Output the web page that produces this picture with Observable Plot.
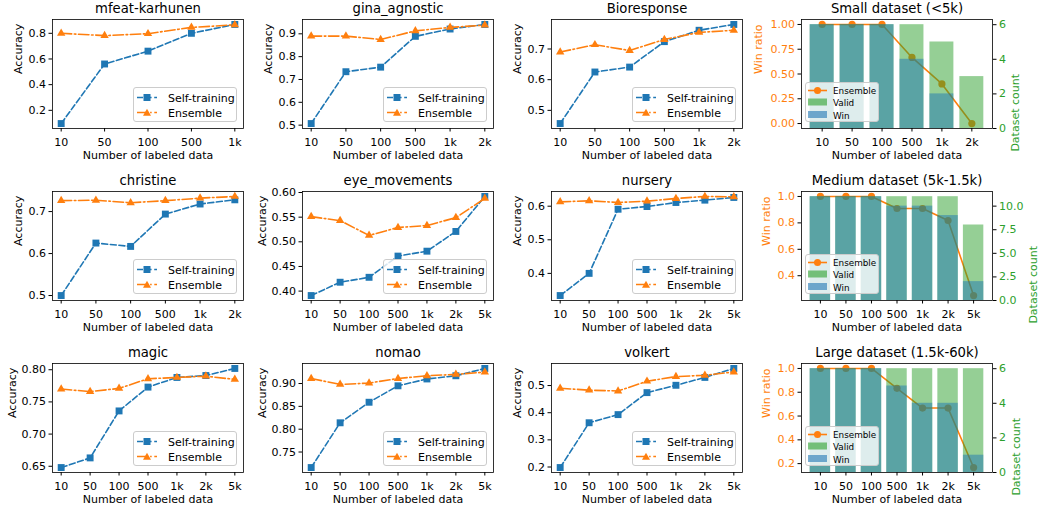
<!DOCTYPE html>
<html><head><meta charset="utf-8">
<script src="https://cdn.jsdelivr.net/npm/d3@7"></script>
<script src="https://cdn.jsdelivr.net/npm/@observablehq/plot@0.6"></script>
<style>
body{margin:0;background:#fff;}
#root{position:relative;width:1039px;height:512px;overflow:hidden;background:#fff;font-family:"DejaVu Sans",sans-serif;color:#000;}
.leg{position:absolute;background:rgba(255,255,255,0.8);border:1px solid #cccccc;border-radius:3px;box-sizing:border-box;}
.leg span{position:absolute;line-height:1;white-space:nowrap;transform:translateY(-50%);}
.leg svg{position:absolute;left:0;top:0;overflow:visible;}
</style></head><body><div id="root"></div><script>
// ---------- data ----------
const labels5 = ["10","50","100","500","1k"];
const labels6 = ["10","50","100","500","1k","2k"];
const labels7 = ["10","50","100","500","1k","2k","5k"];

const mfeatSelf = [0.097, 0.561, 0.661, 0.800, 0.869];
const mfeatEns  = [0.800, 0.782, 0.797, 0.846, 0.866];
const ginaSelf  = [0.507, 0.734, 0.754, 0.889, 0.921, 0.941];
const ginaEns   = [0.890, 0.890, 0.875, 0.913, 0.928, 0.938];
const bioSelf   = [0.457, 0.625, 0.641, 0.724, 0.761, 0.780];
const bioEns    = [0.690, 0.714, 0.695, 0.731, 0.754, 0.761];
const chrSelf   = [0.500, 0.625, 0.617, 0.694, 0.718, 0.728];
const chrEns    = [0.726, 0.727, 0.721, 0.726, 0.732, 0.736];
const eyeSelf   = [0.391, 0.418, 0.428, 0.471, 0.481, 0.521, 0.592];
const eyeEns    = [0.551, 0.543, 0.513, 0.529, 0.533, 0.549, 0.588];
const nurSelf   = [0.334, 0.400, 0.591, 0.599, 0.611, 0.618, 0.626];
const nurEns    = [0.613, 0.616, 0.611, 0.615, 0.623, 0.629, 0.628];
const magSelf   = [0.648, 0.663, 0.736, 0.773, 0.788, 0.791, 0.802];
const magEns    = [0.770, 0.766, 0.771, 0.786, 0.788, 0.790, 0.785];
const nomSelf   = [0.716, 0.814, 0.859, 0.895, 0.910, 0.917, 0.933];
const nomEns    = [0.911, 0.898, 0.901, 0.911, 0.917, 0.920, 0.925];
const volSelf   = [0.198, 0.363, 0.393, 0.474, 0.501, 0.530, 0.563];
const volEns    = [0.490, 0.483, 0.480, 0.516, 0.533, 0.538, 0.550];

const smallValid = [6, 6, 6, 6, 5, 3];
const smallWin   = [6, 6, 6, 4, 2, 0];
const smallRatio = [1.0, 1.0, 1.0, 0.667, 0.4, 0.0];
const medValid   = [11, 11, 11, 11, 11, 11, 8];
const medWin     = [11, 11, 11, 10, 10, 9, 2];
const medRatio   = [1.0, 1.0, 1.0, 0.909, 0.909, 0.818, 0.25];
const largeValid = [6, 6, 6, 6, 6, 6, 6];
const largeWin   = [6, 6, 6, 5, 4, 4, 1];
const largeRatio = [1.0, 1.0, 1.0, 0.833, 0.667, 0.667, 0.167];

const ticksMfeat = [0.2, 0.4, 0.6, 0.8];
const ticksGina  = [0.5, 0.6, 0.7, 0.8, 0.9];
const ticksBio   = [0.5, 0.6, 0.7];
const ticksChr   = [0.5, 0.6, 0.7];
const ticksEye   = [0.40, 0.45, 0.50, 0.55, 0.60];
const ticksNur   = [0.4, 0.5, 0.6];
const ticksMag   = [0.65, 0.70, 0.75, 0.80];
const ticksNom   = [0.75, 0.80, 0.85, 0.90];
const ticksVol   = [0.2, 0.3, 0.4, 0.5];
const ticksSmallL = [0, 0.25, 0.5, 0.75, 1.0];
const ticksSmallR = [0, 2, 4, 6];
const ticksMedL   = [0.4, 0.6, 0.8, 1.0];
const ticksMedR   = [0, 2.5, 5, 7.5, 10];
const ticksLargeL = [0.2, 0.4, 0.6, 0.8, 1.0];
const ticksLargeR = [0, 2, 4, 6];

// ---------- layout ----------
const BLUE = "#1f77b4", ORANGE = "#ff7f0e", GREEN = "#2ca02c";
const colLeft = [52, 302, 551, 801];
const rowTop = [19, 191, 363];
const FW = 191, FH = 109;
const mL = 50, mT = 26, mB = 42;
const root = document.getElementById("root");
const style = {fontFamily: "'DejaVu Sans', sans-serif", fontSize: "11px", background: "transparent", overflow: "visible", color: "black"};

function place(svg, col, row) {
  svg.style.position = "absolute";
  svg.style.left = (colLeft[col] - mL) + "px";
  svg.style.top = (rowTop[row] - mT) + "px";
  root.appendChild(svg);
}
const xDomPts = n => [-0.05 * (n - 1), 1.05 * (n - 1)];
const xDomBars = n => { const m = 0.05 * (n - 1 + 0.8); return [-0.4 - m, n - 1 + 0.4 + m]; };
const padDom = v => { const [lo, hi] = d3.extent(v); const p = 0.05 * (hi - lo); return [lo - p, hi + p]; };

const axisXMark = labels => Plot.axisX({ticks: d3.range(labels.length), tickFormat: i => labels[i], tickSize: 3.5, tickPadding: 6, label: null});
const titleMark = t => Plot.text([t], {text: d => d, frameAnchor: "top", dy: -10.5, lineAnchor: "middle", fontSize: 13.2});
const xLabelMark = () => Plot.text(["Number of labeled data"], {text: d => d, frameAnchor: "bottom", dy: 27, lineAnchor: "middle"});

function lineLegend(col, row) {
  const w = 104, h = 35;
  const d = document.createElement("div");
  d.className = "leg";
  d.style.left = (colLeft[col] + FW - 6 - w) + "px";
  d.style.top = (rowTop[row] + FH - 6 - h) + "px";
  d.style.width = w + "px"; d.style.height = h + "px";
  d.innerHTML = `<svg width="${w}" height="${h}">
    <line x1="3" x2="23" y1="9.5" y2="9.5" stroke="${BLUE}" stroke-width="1.6" stroke-dasharray="6,2.6"/>
    <rect x="9.5" y="6" width="7" height="7" fill="${BLUE}"/>
    <line x1="3" x2="23" y1="24.5" y2="24.5" stroke="${ORANGE}" stroke-width="1.6" stroke-dasharray="10.5,2.6,1.6,2.6"/>
    <path d="M13,20.8 L17,27.7 L9,27.7 Z" fill="${ORANGE}"/>
  </svg><span style="left:34px;top:10px;font-size:11px">Self-training</span><span style="left:34px;top:25px;font-size:11px">Ensemble</span>`;
  root.appendChild(d);
}

function barLegend(col, row) {
  const w = 74, h = 40;
  const d = document.createElement("div");
  d.className = "leg";
  d.style.left = (colLeft[col] + 4) + "px";
  d.style.top = (rowTop[row] + FH - 6 - h) + "px";
  d.style.width = w + "px"; d.style.height = h + "px";
  d.innerHTML = `<svg width="${w}" height="${h}">
    <line x1="2" x2="21" y1="7.5" y2="7.5" stroke="${ORANGE}" stroke-width="1.6"/>
    <circle cx="11.5" cy="7.5" r="3.5" fill="${ORANGE}"/>
    <rect x="2" y="15.5" width="19" height="7" fill="${GREEN}" fill-opacity="0.6"/>
    <rect x="2" y="28" width="19" height="7" fill="${BLUE}" fill-opacity="0.6"/>
  </svg><span style="left:27px;top:8px;font-size:8.8px">Ensemble</span><span style="left:27px;top:20px;font-size:8.8px">Valid</span><span style="left:27px;top:32.5px;font-size:8.8px">Win</span>`;
  root.appendChild(d);
}

function linePanel(p) {
  const n = p.labels.length;
  const rows = p.labels.map((l, i) => ({i, self: p.self[i], ens: p.ens[i]}));
  const svg = Plot.plot({
    width: FW + mL + 12, height: FH + mT + mB,
    marginLeft: mL, marginRight: 12, marginTop: mT, marginBottom: mB,
    x: {domain: xDomPts(n), axis: null},
    y: {domain: padDom(p.self.concat(p.ens)), axis: null},
    style,
    marks: [
      Plot.line(rows, {x: "i", y: "self", stroke: BLUE, strokeWidth: 1.6, strokeDasharray: "6,2.6"}),
      Plot.dot(rows, {x: "i", y: "self", symbol: "square", r: 3.9, fill: BLUE, stroke: "none"}),
      Plot.line(rows, {x: "i", y: "ens", stroke: ORANGE, strokeWidth: 1.6, strokeDasharray: "10.5,2.6,1.6,2.6"}),
      Plot.dot(rows, {x: "i", y: "ens", symbol: "triangle", r: 3.1, fill: ORANGE, stroke: "none"}),
      Plot.frame({stroke: "black", strokeWidth: 0.8}),
      axisXMark(p.labels),
      Plot.axisY({ticks: p.ticks, tickFormat: d3.format(p.fmt), tickSize: 3.5, tickPadding: 3, label: null}),
      titleMark(p.title),
      xLabelMark(),
      Plot.text(["Accuracy"], {text: d => d, frameAnchor: "left", dx: p.fmt === ".2f" ? -40.5 : -34, rotate: -90, lineAnchor: "middle"})
    ]
  });
  place(svg, p.col, p.row);
  lineLegend(p.col, p.row);
}

function barPanel(p) {
  const n = p.labels.length;
  const rows = p.labels.map((l, i) => ({i, valid: p.valid[i], win: p.win[i], ratio: p.ratio[i]}));
  const dims = {width: FW + mL + 48, height: FH + mT + mB, marginLeft: mL, marginRight: 48, marginTop: mT, marginBottom: mB};
  const lower = Plot.plot({
    ...dims,
    x: {domain: xDomBars(n), axis: null},
    y: {domain: padDom(p.ratio), axis: null},
    style,
    marks: [
      Plot.line(rows, {x: "i", y: "ratio", stroke: ORANGE, strokeWidth: 1.6}),
      Plot.dot(rows, {x: "i", y: "ratio", r: 3.6, fill: ORANGE, stroke: "none"}),
      axisXMark(p.labels),
      Plot.axisY({ticks: p.ticksL, tickFormat: d3.format(p.fmtL), tickSize: 3.5, tickPadding: 3, stroke: "black", fill: ORANGE, label: null}),
      titleMark(p.title),
      xLabelMark(),
      Plot.text(["Win ratio"], {text: d => d, frameAnchor: "left", dx: p.dxL, rotate: -90, lineAnchor: "middle", fill: ORANGE})
    ]
  });
  const upper = Plot.plot({
    ...dims,
    x: {domain: xDomBars(n), axis: null},
    y: {domain: [0, d3.max(p.valid) * 1.05], axis: null},
    style,
    marks: [
      Plot.rect(rows, {x1: d => d.i - 0.4, x2: d => d.i + 0.4, y1: d => 0, y2: "valid", fill: GREEN, fillOpacity: 0.5}),
      Plot.rect(rows, {x1: d => d.i - 0.4, x2: d => d.i + 0.4, y1: d => 0, y2: "win", fill: BLUE, fillOpacity: 0.5}),
      Plot.frame({stroke: "black", strokeWidth: 0.8}),
      Plot.axisY({anchor: "right", ticks: p.ticksR, tickFormat: d3.format(p.fmtR), tickSize: 3.5, tickPadding: 3, stroke: "black", fill: GREEN, label: null}),
      Plot.text(["Dataset count"], {text: d => d, frameAnchor: "right", dx: p.dxR, rotate: -90, lineAnchor: "middle", fill: GREEN})
    ]
  });
  place(lower, p.col, p.row);
  place(upper, p.col, p.row);
  barLegend(p.col, p.row);
}

const linePanels = [
  {title: "mfeat-karhunen", labels: labels5, self: mfeatSelf, ens: mfeatEns, ticks: ticksMfeat, fmt: ".1f", col: 0, row: 0},
  {title: "gina_agnostic", labels: labels6, self: ginaSelf, ens: ginaEns, ticks: ticksGina, fmt: ".1f", col: 1, row: 0},
  {title: "Bioresponse", labels: labels6, self: bioSelf, ens: bioEns, ticks: ticksBio, fmt: ".1f", col: 2, row: 0},
  {title: "christine", labels: labels6, self: chrSelf, ens: chrEns, ticks: ticksChr, fmt: ".1f", col: 0, row: 1},
  {title: "eye_movements", labels: labels7, self: eyeSelf, ens: eyeEns, ticks: ticksEye, fmt: ".2f", col: 1, row: 1},
  {title: "nursery", labels: labels7, self: nurSelf, ens: nurEns, ticks: ticksNur, fmt: ".1f", col: 2, row: 1},
  {title: "magic", labels: labels7, self: magSelf, ens: magEns, ticks: ticksMag, fmt: ".2f", col: 0, row: 2},
  {title: "nomao", labels: labels7, self: nomSelf, ens: nomEns, ticks: ticksNom, fmt: ".2f", col: 1, row: 2},
  {title: "volkert", labels: labels7, self: volSelf, ens: volEns, ticks: ticksVol, fmt: ".1f", col: 2, row: 2}
];
const barPanels = [
  {title: "Small dataset (<5k)", labels: labels6, valid: smallValid, win: smallWin, ratio: smallRatio, ticksL: ticksSmallL, fmtL: ".2f", ticksR: ticksSmallR, fmtR: "d", dxL: -43, dxR: 23, col: 3, row: 0},
  {title: "Medium dataset (5k-1.5k)", labels: labels7, valid: medValid, win: medWin, ratio: medRatio, ticksL: ticksMedL, fmtL: ".1f", ticksR: ticksMedR, fmtR: ".1f", dxL: -35, dxR: 41, col: 3, row: 1},
  {title: "Large dataset (1.5k-60k)", labels: labels7, valid: largeValid, win: largeWin, ratio: largeRatio, ticksL: ticksLargeL, fmtL: ".1f", ticksR: ticksLargeR, fmtR: "d", dxL: -35, dxR: 24, col: 3, row: 2}
];
linePanels.forEach(linePanel);
barPanels.forEach(barPanel);
</script></body></html>
